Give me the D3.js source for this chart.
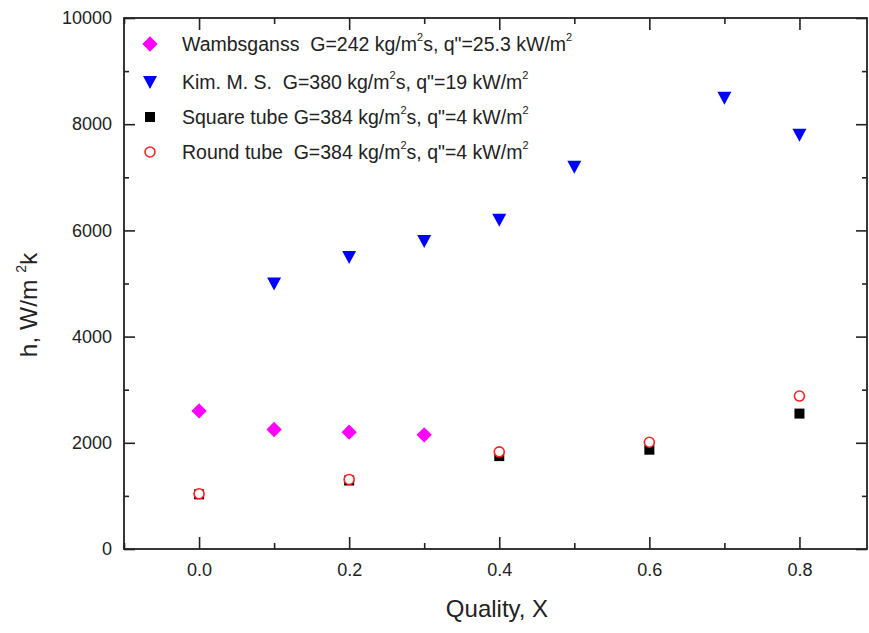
<!DOCTYPE html>
<html>
<head>
<meta charset="utf-8">
<script src="https://cdn.jsdelivr.net/npm/d3@7/dist/d3.min.js"></script>
<style>
  html, body { margin: 0; padding: 0; background: #fff; }
  svg { display: block; font-family: "Liberation Sans", Arial, sans-serif; }
</style>
</head>
<body>
<svg id="chart" width="869" height="633"></svg>
<script>
// Heat transfer coefficient vs. vapour quality
const wambX = [0.0, 0.1, 0.2, 0.3];
const wambH = [2600, 2250, 2200, 2150];

const kimX = [0.1, 0.2, 0.3, 0.4, 0.5, 0.7, 0.8];
const kimH = [5000, 5500, 5800, 6200, 7200, 8500, 7800];

const squareX = [0.0, 0.2, 0.4, 0.6, 0.8];
const squareH = [1030, 1290, 1750, 1870, 2550];

const roundX = [0.0, 0.2, 0.4, 0.6, 0.8];
const roundH = [1040, 1310, 1830, 2010, 2880];

const xMajorTicks = [0.0, 0.2, 0.4, 0.6, 0.8];
const xMinorTicks = [-0.1, 0.1, 0.3, 0.5, 0.7];
const yMajorTicks = [0, 2000, 4000, 6000, 8000, 10000];
const yMinorTicks = [1000, 3000, 5000, 7000, 9000];

// legend rows: name + mass flux, then heat flux
const legendNames = ["Wambsganss\u00a0\u00a0G=242", "Kim. M. S.\u00a0\u00a0G=380", "Square tube G=384", "Round tube\u00a0\u00a0G=384"];
const legendQ = ["25.3", "19", "4", "4"];

const svg = d3.select("#chart");
const plotL = 124, plotR = 867, plotT = 18, plotB = 549;

const x = d3.scaleLinear().domain([-0.1, 0.89]).range([plotL, plotR]);
const y = d3.scaleLinear().domain([0, 10000]).range([plotB, plotT]);

const axisColor = "#222";
const fmtX = d3.format(".1f");

function styleAxis(g) {
  g.select(".domain").remove();
  g.selectAll(".tick line").attr("stroke", axisColor).attr("stroke-width", 1.6);
  g.selectAll(".tick text").attr("fill", "#222").style("font-size", "18px")
    .style("font-family", "'Liberation Sans', Arial, sans-serif");
}

// bottom axis (major + minor), ticks pointing inward
svg.append("g").attr("transform", `translate(0,${plotB})`)
  .call(d3.axisBottom(x).tickValues(xMajorTicks).tickSize(-12).tickPadding(14).tickFormat(fmtX))
  .call(styleAxis);
svg.append("g").attr("transform", `translate(0,${plotB})`)
  .call(d3.axisBottom(x).tickValues(xMinorTicks).tickSize(-6).tickFormat(""))
  .call(styleAxis);
// top axis
svg.append("g").attr("transform", `translate(0,${plotT})`)
  .call(d3.axisTop(x).tickValues(xMajorTicks).tickSize(-12).tickFormat(""))
  .call(styleAxis);
svg.append("g").attr("transform", `translate(0,${plotT})`)
  .call(d3.axisTop(x).tickValues(xMinorTicks).tickSize(-6).tickFormat(""))
  .call(styleAxis);
// left axis
svg.append("g").attr("transform", `translate(${plotL},0)`)
  .call(d3.axisLeft(y).tickValues(yMajorTicks).tickSize(-11).tickPadding(12).tickFormat(d3.format("d")))
  .call(styleAxis);
svg.append("g").attr("transform", `translate(${plotL},0)`)
  .call(d3.axisLeft(y).tickValues(yMinorTicks).tickSize(-5).tickFormat(""))
  .call(styleAxis);
// right axis
svg.append("g").attr("transform", `translate(${plotR},0)`)
  .call(d3.axisRight(y).tickValues(yMajorTicks).tickSize(-11).tickFormat(""))
  .call(styleAxis);
svg.append("g").attr("transform", `translate(${plotR},0)`)
  .call(d3.axisRight(y).tickValues(yMinorTicks).tickSize(-5).tickFormat(""))
  .call(styleAxis);

// frame
svg.append("rect")
  .attr("x", plotL).attr("y", plotT)
  .attr("width", plotR - plotL).attr("height", plotB - plotT)
  .attr("fill", "none").attr("stroke", axisColor).attr("stroke-width", 1.8);

// marker shapes
const diamond = d3.symbol().type(d3.symbolDiamond2).size(150)();
const triDown = "M-7,-6L7,-6L0,7Z";

function drawSeries(xs, ys, draw) {
  const g = svg.append("g");
  xs.forEach((xv, i) => draw(g, x(xv), y(ys[i])));
}

drawSeries(wambX, wambH, (g, cx, cy) =>
  g.append("path").attr("d", diamond).attr("transform", `translate(${cx},${cy})`).attr("fill", "#ff00ff"));
drawSeries(kimX, kimH, (g, cx, cy) =>
  g.append("path").attr("d", triDown).attr("transform", `translate(${cx},${cy})`).attr("fill", "#0000ff"));
drawSeries(squareX, squareH, (g, cx, cy) =>
  g.append("rect").attr("x", cx - 5).attr("y", cy - 5).attr("width", 10).attr("height", 10).attr("fill", "#000"));
drawSeries(roundX, roundH, (g, cx, cy) =>
  g.append("circle").attr("cx", cx).attr("cy", cy).attr("r", 5).attr("fill", "#fff")
    .attr("stroke", "#ff2020").attr("stroke-width", 1.6));

// legend
const legend = svg.append("g");
const rowY = [44, 82, 117, 152];
const markX = 150, textX = 182;
const legendMarkers = [
  (g, cy) => g.append("path").attr("d", diamond).attr("transform", `translate(${markX},${cy})`).attr("fill", "#ff00ff"),
  (g, cy) => g.append("path").attr("d", triDown).attr("transform", `translate(${markX},${cy})`).attr("fill", "#0000ff"),
  (g, cy) => g.append("rect").attr("x", markX - 5).attr("y", cy - 5).attr("width", 10).attr("height", 10).attr("fill", "#000"),
  (g, cy) => g.append("circle").attr("cx", markX).attr("cy", cy).attr("r", 5).attr("fill", "#fff").attr("stroke", "#ff2020").attr("stroke-width", 1.6)
];
legendNames.forEach((name, i) => {
  const cy = rowY[i];
  legendMarkers[i](legend, cy);
  const t = legend.append("text").attr("x", textX).attr("y", cy + 7)
    .attr("fill", "#222").style("font-size", "19.5px");
  t.append("tspan").text(name + " kg/m");
  t.append("tspan").attr("dy", -10).style("font-size", "11px").text("2");
  t.append("tspan").attr("dy", 10).text("s, q\"=" + legendQ[i] + " kW/m");
  t.append("tspan").attr("dy", -10).style("font-size", "11px").text("2");
});

// axis titles
svg.append("text").attr("x", 497).attr("y", 617).attr("text-anchor", "middle")
  .attr("fill", "#222").style("font-size", "24px").text("Quality, X");

const yt = svg.append("text").attr("transform", "translate(37,305) rotate(-90)")
  .attr("text-anchor", "middle").attr("fill", "#222").style("font-size", "24.5px");
yt.append("tspan").text("h, W/m ");
yt.append("tspan").attr("dy", -11).style("font-size", "14px").text("2");
yt.append("tspan").attr("dy", 11).text("k");
</script>
</body>
</html>
